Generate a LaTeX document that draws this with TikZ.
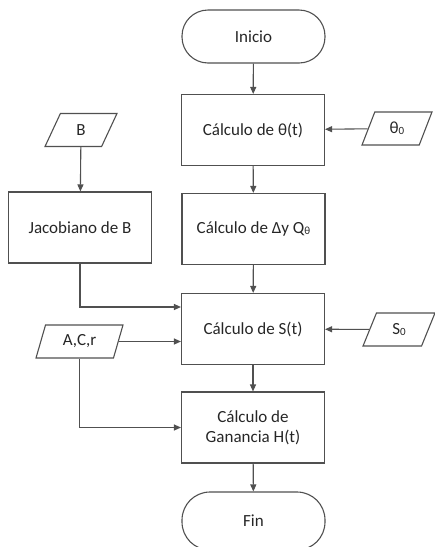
\documentclass[tikz,border=0pt]{standalone}
\usepackage{fontspec}
\setmainfont{Carlito}
\usetikzlibrary{shapes.geometric,arrows.meta,calc}
\definecolor{linec}{HTML}{505050}
\definecolor{textc}{HTML}{262626}
\begin{document}
\begin{tikzpicture}[x=1pt,y=-1pt,
  every node/.style={font=\fontsize{17}{20}\selectfont, text=textc},
  proc/.style={draw=linec, line width=1.1pt, minimum width=143pt, minimum height=71pt, inner sep=2pt, align=center},
  term/.style={draw=linec, line width=1.1pt, minimum width=143pt, minimum height=53pt, rounded corners=26pt},
  io/.style={draw=linec, line width=1.1pt, trapezium, trapezium left angle=72, trapezium right angle=108, trapezium stretches=true, minimum height=33pt, inner sep=1pt},
  conn/.style={draw=linec, line width=1.1pt, -{Triangle[length=7pt,width=6pt]}},
  plainline/.style={draw=linec, line width=1.1pt}]
\useasboundingbox (0,0) rectangle (435,547);
\node[term] (ini) at (253.5,36.5) {Inicio};
\node[proc] (th) at (253,130) {Cálculo de θ(t)};
\node[proc] (dq) at (253.5,229) {Cálculo de Δy Q\raisebox{-1pt}{\fontsize{11}{11}\selectfont θ}};
\node[proc] (st) at (253,329) {Cálculo de S(t)};
\node[proc] (ht) at (253,427.5) {Cálculo de\\Ganancia H(t)};
\node[term, minimum height=58pt, rounded corners=28pt] (fin) at (253.5,521) {Fin};
\node[proc] (jac) at (80,227.5) {Jacobiano de B};
\node[io, minimum width=72pt] (b) at (81,130) {B};
\node[io, minimum width=70pt] (th0) at (397,128.5) {θ\raisebox{-1pt}{\fontsize{11}{11}\selectfont 0}};
\node[io, minimum width=87pt] (acr) at (79.5,341.5) {A,C,r};
\node[io, minimum width=72pt] (s0) at (399,329.5) {S\raisebox{-1pt}{\fontsize{11}{11}\selectfont 0}};
\coordinate (jin) at ([yshift=22pt]st.west);
\draw[conn] (ini) -- (th);
\draw[conn] (th) -- (dq);
\draw[conn] (dq) -- (st);
\draw[conn] (st) -- (ht);
\draw[conn] (ht) -- (fin);
\draw[conn] (th0) -- (th);
\draw[conn] (s0) -- (st);
\draw[conn] (b) -- (jac);
\draw[conn] (jac.south) |- (jin);
\draw[conn] (acr.east) -- (acr.east -| st.west);
\draw[conn] (acr.south) |- (ht.west);
\end{tikzpicture}
\end{document}
